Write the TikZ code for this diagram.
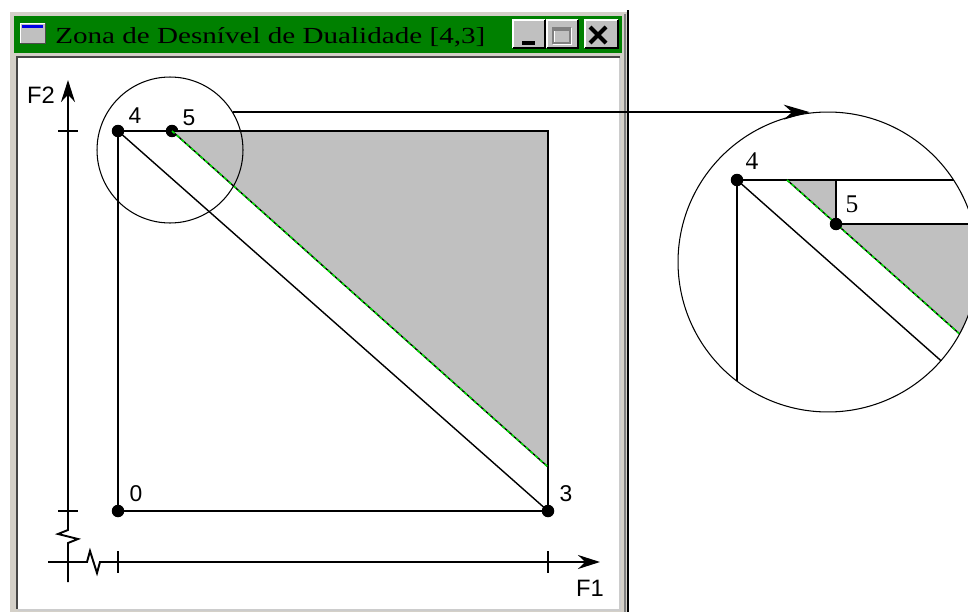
\documentclass[tikz,border=0pt]{standalone}
\usepackage{fontspec}
\setmainfont{Liberation Serif}
\setsansfont{Liberation Sans}
\usetikzlibrary{arrows.meta,positioning,calc}
\definecolor{TitleGreen}{RGB}{0,128,0}
\definecolor{FaceGray}{RGB}{212,208,200}
\definecolor{ZoneGray}{RGB}{192,192,192}
\definecolor{EdgeGreen}{RGB}{0,220,0}
\definecolor{IconBlue}{RGB}{0,0,230}
\tikzset{
  pt/.style={circle,fill=black,inner sep=0pt,minimum size=0.25cm},
  lbl/.style={font=\sffamily\fontsize{13}{15}\selectfont,inner sep=0pt},
  axlbl/.style={font=\sffamily\fontsize{13.5}{15}\selectfont,inner sep=0pt},
  maglbl/.style={font=\fontsize{14.5}{16}\selectfont,inner sep=0pt},
  edge/.style={line width=0.8pt,black},
  greenedge/.style={line width=0.9pt,EdgeGreen,dash pattern=on 2pt off 1.6pt},
  axis/.style={line width=1.1pt,black,line join=miter},
  tickmark/.style={line width=0.8pt,black},
  lens/.style={circle,draw=black,line width=0.6pt,inner sep=0pt},
  link/.style={line width=0.8pt,black,-{Stealth[length=0.52cm,width=0.3cm]}},
  axarrow/.style={-{Stealth[length=0.44cm,width=0.28cm]}},
  btn/.style={fill=ZoneGray}
}

\begin{document}
\begin{tikzpicture}[x=0.02cm,y=-0.02cm]
\useasboundingbox (0,0) rectangle (968,612);

% window frame
\fill[FaceGray] (8,10) rectangle (629,612);
\draw[white,line width=0.6pt] (9,612) -- (9,11) -- (628,11);
\draw[black,line width=0.9pt] (628,10) -- (628,612);
\draw[gray,line width=0.6pt] (625,14) -- (625,612);
\fill[TitleGreen] (14,16) rectangle (622,53);
\fill[white] (18,58) rectangle (620,609);
\draw[gray!55!black,line width=0.9pt] (17,609) -- (17,57) -- (620,57);
\draw[gray!40,line width=0.6pt] (18,610) -- (620,610) -- (620,58);

% title bar
\fill[ZoneGray] (20,23) rectangle (45,43);
\draw[white,line width=0.5pt] (20,43) -- (20,23) -- (45,23);
\draw[gray!60!black,line width=0.5pt] (20,43) -- (45,43) -- (45,23);
\fill[IconBlue] (22,25) rectangle (43,28);
\node[anchor=base west,inner sep=0pt] (title) at (55,43)
  {\resizebox{8.6cm}{0.32cm}{Zona de Desnível de Dualidade [4,3]}};
\foreach \xa/\xb in {513/545,547/578,585/618} {
  \fill[btn] (\xa,20) rectangle (\xb,48);
  \draw[white,line width=0.6pt] (\xa,48) -- (\xa,20) -- (\xb,20);
  \draw[black,line width=0.8pt] (\xa,48) -- (\xb,48) -- (\xb,20);
}
\fill[black] (522,41) rectangle (535,45);
\draw[white,line width=0.9pt] (554,29) rectangle (571,44);
\draw[gray,line width=0.9pt] (553,28) rectangle (570,43);
\draw[gray,line width=1.6pt] (553,29.5) -- (570,29.5);
\draw[black,line width=2.4pt] (590,27) -- (606,43) (606,27) -- (590,43);

% axes
\coordinate (ybot) at (68,582);
\coordinate (ytop) at (68,80);
\coordinate (xleft) at (48,562);
\coordinate (xright) at (600,562);
\draw[axis,axarrow] (ybot) -- (68,543) -- (78,539) -- (58,534) -- (68,530) -- (ytop);
\draw[axis,axarrow] (xleft) -- (87,562) -- (90,551) -- (97,573) -- (100,562) -- (xright);
\draw[tickmark] (58,131) -- (78,131) (58,511) -- (78,511);
\draw[tickmark] (118,551) -- (118,573) (548,551) -- (548,573);
\node[axlbl] (lf2) at (41,95) {F2};
\node[axlbl] (lf1) at (590,588) {F1};

% plot
\node[pt] (p4) at (118,131) {};
\node[pt] (p5) at (172,131) {};
\node[pt] (p0) at (118,511) {};
\node[pt] (p3) at (548,511) {};
\coordinate (c1) at (548,131);
\coordinate (c2) at (548,467);
\fill[ZoneGray] (p5.center) -- (c1) -- (c2) -- cycle;
\draw[edge] (p4.center) -- (p0.center) -- (p3.center) -- (c1) -- (p4.center);
\draw[edge] (p4.center) -- (p3.center);
\draw[edge] (p5.center) -- (c2);
\draw[greenedge] (p5.center) -- (c2);
\node[lbl] (l4) at (135,116) {4};
\node[lbl] (l5) at (189,118) {5};
\node[lbl] (l0) at (136,494) {0};
\node[lbl] (l3) at (566,494) {3};

% magnified view
\node[lens,minimum size=2.92cm] (lens) at (170,150) {};
\begin{scope}
  \clip (828,262) circle (150);
  \fill[ZoneGray] (787,180) -- (836,180) -- (836,224) -- (1000,224) -- (1000,370) -- cycle;
  \draw[edge] (737,180) -- (1000,180);
  \draw[edge] (737,180) -- (737,420);
  \draw[edge] (737,180) -- (1000,413);
  \draw[edge] (787,180) -- (1000,370);
  \draw[greenedge] (787,180) -- (1000,370);
  \draw[edge] (836,180) -- (836,224) -- (1000,224);
\end{scope}
\node[lens,minimum size=6cm] (zoomview) at (828,262) {};
\node[pt] (m4) at (737,180) {};
\node[pt] (m5) at (836,224) {};
\node[maglbl] (ml4) at (752,161) {4};
\node[maglbl] (ml5) at (852,204) {5};
\draw[link] (lens.31.5) -- (lens.31.5 -| zoomview.97);

\end{tikzpicture}
\end{document}
